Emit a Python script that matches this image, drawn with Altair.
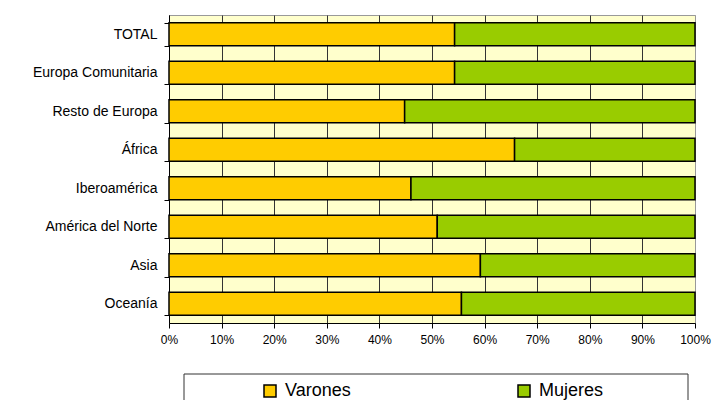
import altair as alt
import pandas as pd

regions = ["TOTAL", "Europa Comunitaria", "Resto de Europa", "África",
           "Iberoamérica", "América del Norte", "Asia", "Oceanía"]
varones = [54.3, 54.3, 44.8, 65.7, 46.0, 51.0, 59.2, 55.6]
mujeres = [round(100 - v, 1) for v in varones]
series = ["Varones", "Mujeres"]
colors = ["#FFCC00", "#99CC00"]
x_ticks = [i / 10 for i in range(11)]

rows = []
for r, v, m in zip(regions, varones, mujeres):
    rows.append({"region": r, "sexo": "Varones", "valor": v, "orden": 0})
    rows.append({"region": r, "sexo": "Mujeres", "valor": m, "orden": 1})
df = pd.DataFrame(rows)

FONT = "Liberation Sans"

bars = alt.Chart(df).mark_bar(stroke="black", strokeWidth=1.5).encode(
    y=alt.Y("region:N", sort=regions, title=None,
            scale=alt.Scale(paddingInner=0.4, paddingOuter=0.2),
            axis=alt.Axis(labelFont=FONT, labelFontSize=14, labelColor="black",
                          tickBand="extent", tickSize=5, tickColor="black",
                          domainColor="black", labelPadding=7, grid=False)),
    x=alt.X("valor:Q", stack="normalize", title=None,
            scale=alt.Scale(domain=[0, 1], nice=False),
            axis=alt.Axis(format="%", values=x_ticks, labelFont=FONT,
                          labelFontSize=12, labelColor="black", tickSize=5,
                          tickColor="black", domainColor="black", labelPadding=6,
                          grid=True,
                          gridColor={"condition": {"test": "datum.value >= 1", "value": "#999999"},
                                     "value": "#333333"},
                          gridWidth=1, labelFlush=False)),
    color=alt.Color("sexo:N", sort=series,
                    scale=alt.Scale(domain=series, range=colors),
                    legend=alt.Legend(title=None, orient="none", legendX=15, legendY=359,
                                      direction="horizontal", symbolType="square",
                                      symbolSize=144, symbolStrokeColor="black",
                                      symbolStrokeWidth=1.5, symbolOffset=69,
                                      labelFont=FONT, labelFontSize=18, labelColor="black",
                                      labelOffset=6, columnPadding=95, padding=8)),
    order=alt.Order("orden:Q"),
)

# legend frame (decoration only)
frame = alt.Chart(alt.Data(values=[{}])).mark_rect(
    fill="white", stroke="#333333", strokeWidth=1
).encode(
    x=alt.value(15), x2=alt.value(519), y=alt.value(359), y2=alt.value(430)
)

chart = alt.layer(frame, bars).properties(
    width=526, height=308,
    padding={"left": 161, "top": 7, "right": 25, "bottom": 77},
    autosize=alt.AutoSizeParams(type="none"),
    background="white",
).configure_view(
    fill="#FFFFCC", stroke="#999999", strokeWidth=1
)

chart.save("out.html", embed_options={"renderer": "svg", "actions": False})
